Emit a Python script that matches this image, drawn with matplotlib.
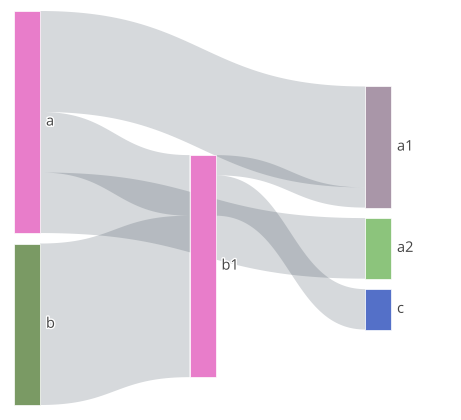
"""Sankey: a/b -> b1 -> a1/a2/c, drawn by hand with bezier bands."""

import matplotlib

matplotlib.use("Agg")
import matplotlib.pyplot as plt
import matplotlib.patheffects as pe
import numpy as np
from matplotlib.patches import Polygon, Rectangle

# nodes
node_names = ["a", "b", "b1", "a1", "a2", "c"]
node_cols = [0, 0, 1, 2, 2, 2]
node_colors = ["#e87dca", "#7a9a64", "#e87dca", "#a996a8", "#8cc47c", "#5470c8"]

# links (source, target, value)
link_src = ["a", "a", "a", "b", "b1", "b1"]
link_tgt = ["a1", "b1", "a2", "b1", "a1", "c"]
link_val = [5, 3, 3, 8, 1, 2]

W, H = 461, 420
TOP, BOTTOM = 11, 405
X0, X1 = 14, 391
NODE_W = 26
PAD = 10.5
LINK_RGBA = (50 / 255, 65 / 255, 80 / 255, 0.2)

idx = {n: i for i, n in enumerate(node_names)}
n = len(node_names)
inflow = np.zeros(n)
outflow = np.zeros(n)
for s, t, v in zip(link_src, link_tgt, link_val):
    outflow[idx[s]] += v
    inflow[idx[t]] += v
size = np.maximum(inflow, outflow)

ncols = max(node_cols) + 1
cols = [[i for i in range(n) if node_cols[i] == c] for c in range(ncols)]
scale = min((BOTTOM - TOP - PAD * (len(c) - 1)) / size[c].sum() for c in cols)
height = size * scale
xs = [X0 + c * (X1 - X0 - NODE_W) / (ncols - 1) for c in node_cols]

ytop = np.zeros(n)
mid = (TOP + BOTTOM) / 2
# outer columns: stacked and centered
for c in (0, ncols - 1):
    total = height[cols[c]].sum() + PAD * (len(cols[c]) - 1)
    y = mid - total / 2
    for i in cols[c]:
        ytop[i] = y
        y += height[i] + PAD
# middle columns: weighted centre of neighbours
for c in range(1, ncols - 1):
    for i in cols[c]:
        num = den = 0.0
        for s, t, v in zip(link_src, link_tgt, link_val):
            if idx[t] == i:
                j = idx[s]
            elif idx[s] == i:
                j = idx[t]
            else:
                continue
            num += v * (ytop[j] + height[j] / 2)
            den += v
        ytop[i] = num / den - height[i] / 2

fig = plt.figure(figsize=(W / 100, H / 100), dpi=100)
ax = fig.add_axes([0, 0, 1, 1])
ax.set_xlim(0, W)
ax.set_ylim(H, 0)
ax.axis("off")

# link offsets at source / target
links = list(range(len(link_val)))
src_off = {}
tgt_off = {}
for i in range(n):
    outs = sorted([k for k in links if idx[link_src[k]] == i], key=lambda k: ytop[idx[link_tgt[k]]])
    y = ytop[i]
    for k in outs:
        src_off[k] = y
        y += link_val[k] * scale
    ins = sorted([k for k in links if idx[link_tgt[k]] == i], key=lambda k: ytop[idx[link_src[k]]])
    y = ytop[i]
    for k in ins:
        tgt_off[k] = y
        y += link_val[k] * scale


def bez(xa, ya, xb, yb, t):
    xm = (xa + xb) / 2
    x = (1 - t) ** 3 * xa + 3 * (1 - t) ** 2 * t * xm + 3 * (1 - t) * t ** 2 * xm + t ** 3 * xb
    y = (1 - t) ** 3 * ya + 3 * (1 - t) ** 2 * t * ya + 3 * (1 - t) * t ** 2 * yb + t ** 3 * yb
    return x, y


t = np.linspace(0, 1, 80)
for k in links:
    s, g = idx[link_src[k]], idx[link_tgt[k]]
    w = link_val[k] * scale
    xa, xb = xs[s] + NODE_W, xs[g]
    tx, ty = bez(xa, src_off[k], xb, tgt_off[k], t)
    bx, by = bez(xa, src_off[k] + w, xb, tgt_off[k] + w, t)
    pts = np.vstack([np.column_stack([tx, ty]), np.column_stack([bx, by])[::-1]])
    ax.add_patch(Polygon(pts, closed=True, facecolor=LINK_RGBA, edgecolor="none"))

for i in range(n):
    ax.add_patch(Rectangle((xs[i], ytop[i]), NODE_W, height[i], facecolor=node_colors[i],
                           edgecolor="white", linewidth=0.5))
    ax.text(xs[i] + NODE_W + 6, ytop[i] + height[i] / 2, node_names[i], ha="left", va="center",
            fontsize=10.5, color="#444444", family=["Open Sans", "DejaVu Sans"],
            path_effects=[pe.withStroke(linewidth=2, foreground="white")])

fig.savefig("out.png", dpi=100)
